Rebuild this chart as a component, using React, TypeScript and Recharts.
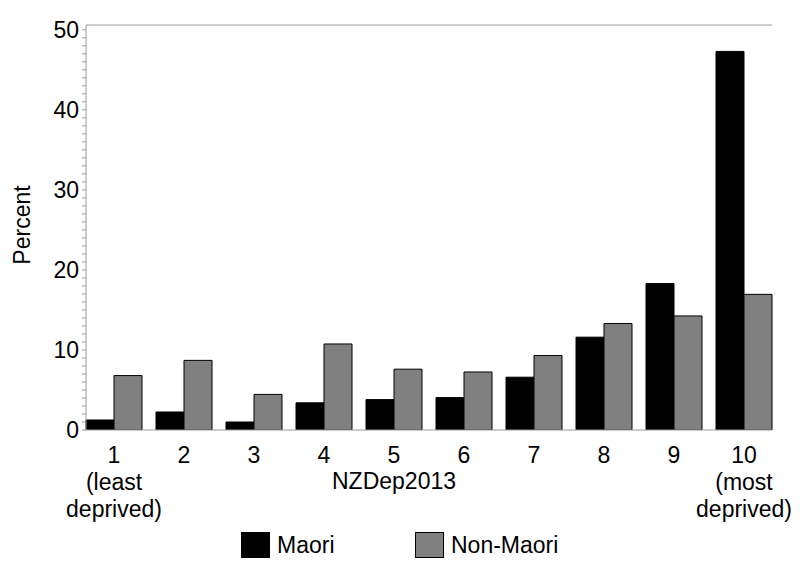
import React from 'react';
import { BarChart, Bar, XAxis, YAxis } from 'recharts';

const categories = ['1', '2', '3', '4', '5', '6', '7', '8', '9', '10'];
const categorySubLabels = [['(least', 'deprived)'], [], [], [], [], [], [], [], [], ['(most', 'deprived)']];
const maori = [1.25, 2.25, 1.0, 3.4, 3.8, 4.05, 6.6, 11.6, 18.3, 47.3];
const nonMaori = [6.8, 8.7, 4.45, 10.75, 7.6, 7.25, 9.3, 13.3, 14.25, 16.95];
const yTicks = Array.from({ length: 51 }, (_, i) => i);
const yLabelTicks = [0, 10, 20, 30, 40, 50];
const seriesNames = ['Maori', 'Non-Maori'];
const seriesColors = ['#000000', '#808080'];

const data = categories.map((c, i) => ({
  name: c,
  Maori: maori[i],
  'Non-Maori': nonMaori[i],
}));

const FONT = '"Liberation Sans", Arial, sans-serif';
const AXIS = '#9a9a9a';

const XTick = (props: any) => {
  const { x, payload, index } = props;
  const sub = categorySubLabels[index] || [];
  const y = 430;
  return (
    <text x={x} y={y} textAnchor="middle" fontFamily={FONT} fontSize={23} fill="#000">
      <tspan x={x} dy={33}>{payload.value}</tspan>
      {sub.map((s: string, k: number) => (
        <tspan key={k} x={x} dy={27}>{s}</tspan>
      ))}
    </text>
  );
};

const YTick = (props: any) => {
  const { x, y, payload } = props;
  if (!yLabelTicks.includes(payload.value)) return null;
  return (
    <text x={x} y={y} dy={8} textAnchor="end" fontFamily={FONT} fontSize={23} fill="#000">
      {payload.value}
    </text>
  );
};

const LegendBox = () => (
  <div style={{ position: 'absolute', left: 241, top: 532, display: 'flex', fontFamily: FONT, fontSize: 23, color: '#000' }}>
    {seriesNames.map((label, i) => (
      <div key={label} style={{ display: 'flex', alignItems: 'flex-end', width: i === 0 ? 174 : 200 }}>
        <div style={{ width: 27, height: 24, background: seriesColors[i], border: '1px solid #000', marginRight: 7 }} />
        <span style={{ lineHeight: '26px' }}>{label}</span>
      </div>
    ))}
  </div>
);

export default function App() {
  return (
    <div style={{ position: 'absolute', left: 0, top: 0, width: 800, height: 569, background: '#fff' }}>
      <BarChart
        width={800}
        height={569}
        data={data}
        margin={{ top: 24, right: 28, left: 26, bottom: 109 }}
        barCategoryGap={7}
        barGap={0}
      >
        <XAxis
          dataKey="name"
          height={30}
          padding={{ left: -7, right: -7 }}
          tickLine={false}
          tickSize={0}
          tickMargin={0}
          axisLine={{ stroke: AXIS }}
          tick={<XTick />}
          interval={0}
          label={{
            content: () => (
              <text x={394} y={489} textAnchor="middle" fontFamily={FONT} fontSize={23} fill="#000">
                NZDep2013
              </text>
            ),
          }}
        />
        <XAxis
          xAxisId="top"
          dataKey="name"
          orientation="top"
          height={1}
          tick={false}
          tickLine={false}
          axisLine={{ stroke: AXIS }}
        />
        <YAxis
          width={60}
          domain={[0, 50.6]}
          allowDataOverflow
          ticks={yTicks}
          interval={0}
          tickSize={4}
          tickMargin={3}
          tickLine={{ stroke: AXIS }}
          axisLine={{ stroke: AXIS }}
          tick={<YTick />}
          label={{
            content: () => (
              <text
                x={30}
                y={225}
                transform="rotate(-90 30 225)"
                textAnchor="middle"
                fontFamily={FONT}
                fontSize={23}
                fill="#000"
              >
                Percent
              </text>
            ),
          }}
        />
        <YAxis yAxisId="right" orientation="right" width={0} tick={false} tickLine={false} axisLine={{ stroke: AXIS }} />
        <Bar dataKey="Maori" fill={seriesColors[0]} stroke="#000000" strokeWidth={1} isAnimationActive={false} />
        <Bar dataKey="Non-Maori" fill={seriesColors[1]} stroke="#000000" strokeWidth={1} isAnimationActive={false} />
      </BarChart>
      <LegendBox />
    </div>
  );
}
